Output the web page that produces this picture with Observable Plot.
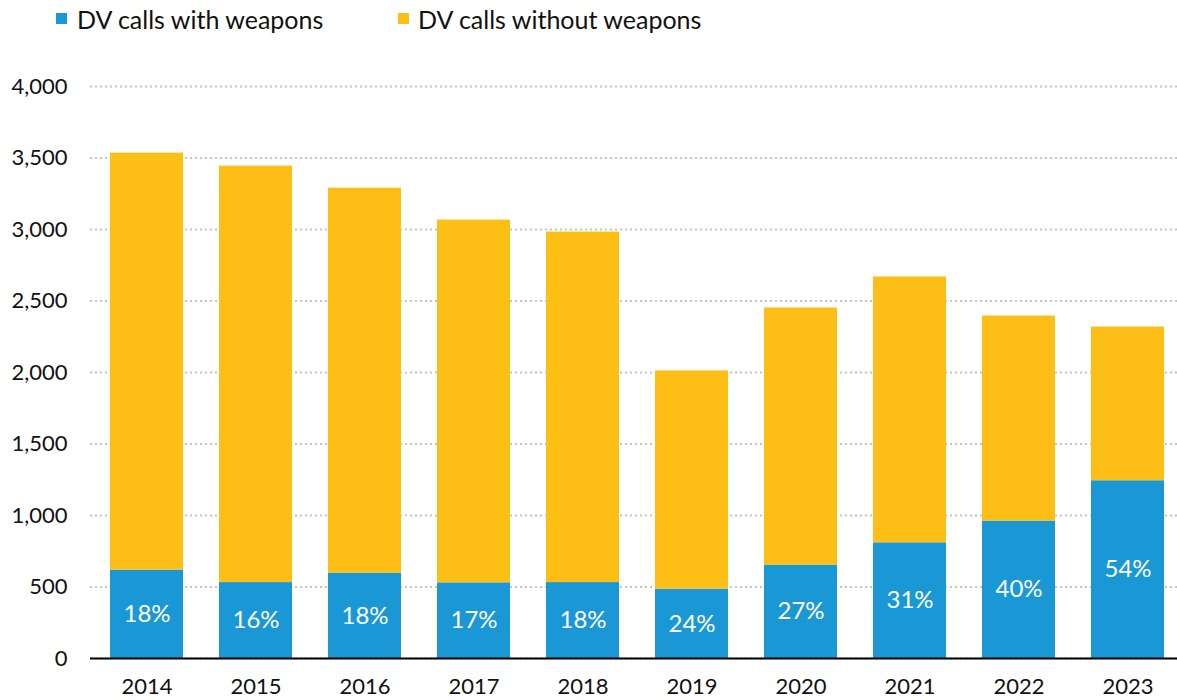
<!DOCTYPE html>
<html>
<head>
<meta charset="utf-8">
<script src="https://cdn.jsdelivr.net/npm/d3@7"></script>
<script src="https://cdn.jsdelivr.net/npm/@observablehq/plot@0.6"></script>
<style>
  html, body { margin: 0; padding: 0; background: #fff; }
  body { font-family: Lato, "Noto Sans", sans-serif; width: 1177px; height: 700px; overflow: hidden; position: relative; }
  #legend { position: relative; height: 42px; }
  .sw { position: absolute; top: 13px; width: 11px; height: 11px; }
  .lt { position: absolute; top: 4px; font-size: 25px; line-height: 30px; color: #111; white-space: nowrap; }
  #chart svg { display: block; }
</style>
</head>
<body>
<div id="legend"></div>
<div id="chart"></div>
<script>
const years = ["2014","2015","2016","2017","2018","2019","2020","2021","2022","2023"];
const withWeapons = [618, 531, 597, 529, 531, 485, 653, 809, 961, 1243];
const withoutWeapons = [2916, 2912, 2692, 2537, 2451, 1526, 1798, 1859, 1434, 1075];
const pctLabels = ["18%","16%","18%","17%","18%","24%","27%","31%","40%","54%"];
const seriesNames = ["DV calls with weapons", "DV calls without weapons"];
const seriesColors = ["#1a98d5", "#fdbf16"];
const yTicks = [0, 500, 1000, 1500, 2000, 2500, 3000, 3500, 4000];

// legend
const legend = document.getElementById("legend");
const swatchX = [56, 398];
const textX = [77, 418];
seriesNames.forEach((name, i) => {
  const sw = document.createElement("span");
  sw.className = "sw";
  sw.style.left = swatchX[i] + "px";
  sw.style.background = seriesColors[i];
  legend.appendChild(sw);
  const t = document.createElement("span");
  t.className = "lt";
  t.style.left = textX[i] + "px";
  t.textContent = name;
  legend.appendChild(t);
});

const rows = years.flatMap((yr, i) => [
  {year: yr, series: seriesNames[0], value: withWeapons[i], pct: pctLabels[i]},
  {year: yr, series: seriesNames[1], value: withoutWeapons[i]}
]);
const labelRows = rows.filter(d => d.series === seriesNames[0]);

const chart = Plot.plot({
  width: 1177,
  height: 658,
  marginTop: 44,
  marginBottom: 42,
  marginLeft: 90,
  marginRight: 0,
  style: { fontFamily: "Lato, 'Noto Sans', sans-serif", fontSize: "22px", color: "#111", background: "#fff" },
  x: { domain: years, range: [90, 1183], paddingInner: 0.332, paddingOuter: 0.165, label: null },
  y: { domain: [0, 4000], label: null },
  color: { domain: seriesNames, range: seriesColors },
  marks: [
    Plot.gridY(yTicks, { stroke: "#c4c4c4", strokeOpacity: 1, strokeWidth: 2, strokeDasharray: "2,3" }),
    Plot.barY(rows, { x: "year", y: "value", fill: "series", order: seriesNames }),
    Plot.text(labelRows, { x: "year", y: d => d.value / 2, text: "pct", fill: "white", fontSize: 24 }),
    Plot.ruleY([0], { stroke: "#000", strokeWidth: 2 }),
    Plot.axisY(yTicks, { tickSize: 0, tickPadding: 23, tickFormat: d3.format(","), fontSize: 22, label: null }),
    Plot.axisX({ tickSize: 0, tickPadding: 20, fontSize: 22, label: null })
  ]
});
document.getElementById("chart").appendChild(chart);
</script>
</body>
</html>
